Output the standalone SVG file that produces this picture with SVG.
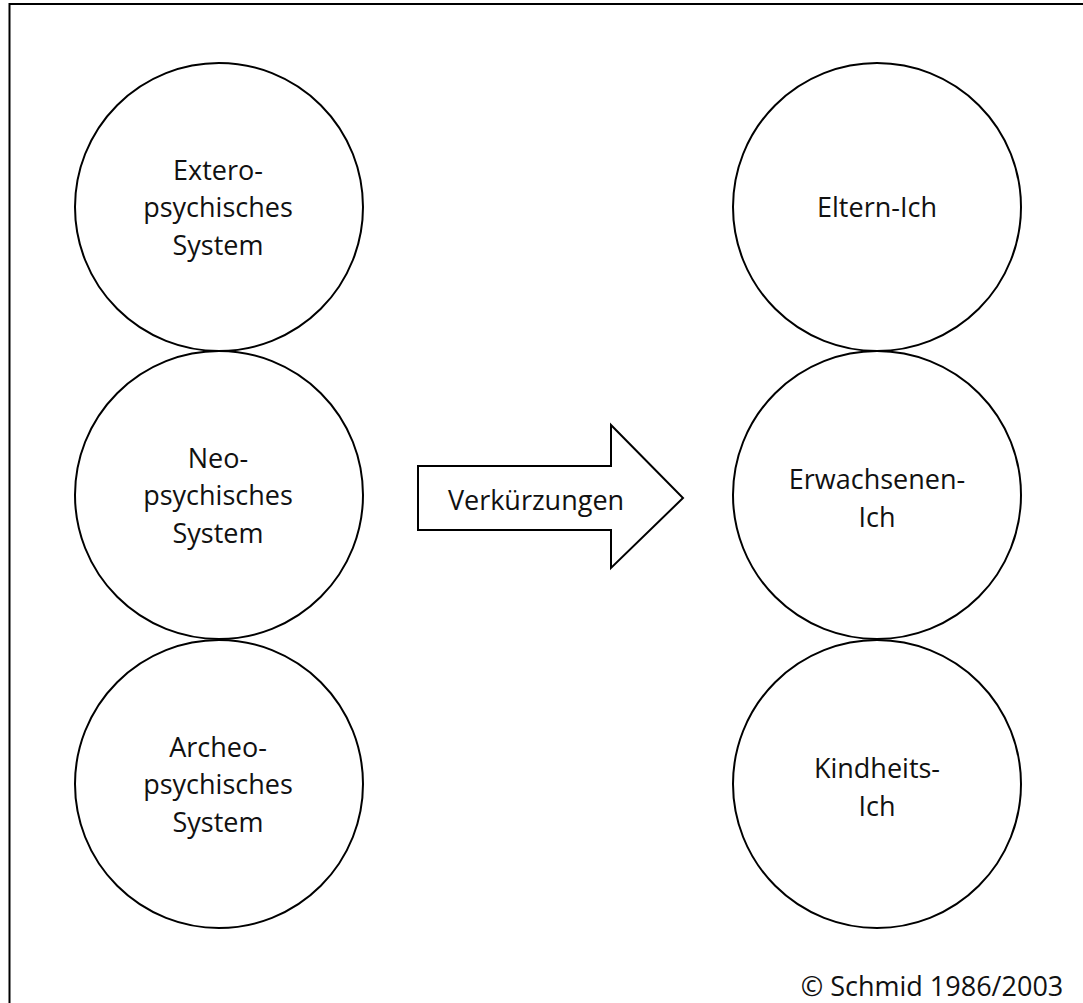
<svg xmlns="http://www.w3.org/2000/svg" width="1083" height="1003" viewBox="0 0 1083 1003">
<style>
.n{fill:#fff;stroke:#000;stroke-width:2}
.t{font-family:"Open Sans","Liberation Sans",sans-serif;font-size:27px;fill:#111;text-anchor:middle}
</style>
<rect x="0" y="0" width="1083" height="1003" fill="#fff"/>
<path d="M9.5,1003 V4 H1083" fill="none" stroke="#000" stroke-width="2"/>
<g id="extero"><circle class="n" cx="219" cy="207" r="144"/><text class="t" x="218" y="180">Extero-</text><text class="t" x="218" y="217">psychisches</text><text class="t" x="218" y="255">System</text></g>
<g id="neo"><circle class="n" cx="219" cy="495" r="144"/><text class="t" x="218" y="468">Neo-</text><text class="t" x="218" y="505">psychisches</text><text class="t" x="218" y="543">System</text></g>
<g id="archeo"><circle class="n" cx="219" cy="784" r="144"/><text class="t" x="218" y="757">Archeo-</text><text class="t" x="218" y="794">psychisches</text><text class="t" x="218" y="832">System</text></g>
<g id="eltern"><circle class="n" cx="877" cy="207" r="144"/><text class="t" x="877" y="217">Eltern-Ich</text></g>
<g id="erwachsenen"><circle class="n" cx="877" cy="495" r="144"/><text class="t" x="877" y="489">Erwachsenen-</text><text class="t" x="877" y="527">Ich</text></g>
<g id="kindheits"><circle class="n" cx="877" cy="784" r="144"/><text class="t" x="877" y="778">Kindheits-</text><text class="t" x="877" y="816">Ich</text></g>
<g id="connectors"><g id="arrow"><path class="n" d="M418,466 H611 V425 L683,498 L611,568 V530 H418 Z" stroke-width="1.5"/><text class="t" x="536" y="510">Verkürzungen</text></g></g>
<text class="t" x="932" y="996">© Schmid 1986/2003</text>
</svg>
